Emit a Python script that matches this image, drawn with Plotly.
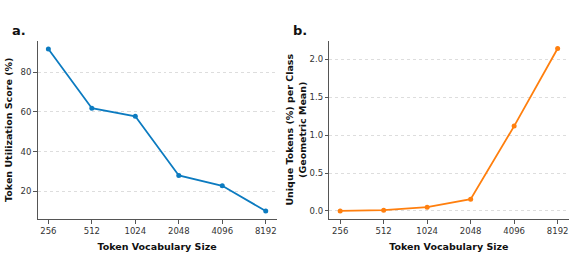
import plotly.graph_objects as go

vocab_sizes = ["256", "512", "1024", "2048", "4096", "8192"]
utilization = [91.8, 61.9, 57.8, 27.9, 22.7, 9.9]
unique_tokens = [0.0, 0.01, 0.05, 0.155, 1.12, 2.145]

BLUE = "#0C7BC0"
ORANGE = "#FF7F0E"
FONT = "DejaVu Sans"
W, H = 574, 268

fig = go.Figure()
fig.add_trace(go.Scatter(x=vocab_sizes, y=utilization, mode="lines+markers",
                         line=dict(color=BLUE, width=1.8),
                         marker=dict(color=BLUE, size=5),
                         xaxis="x", yaxis="y", showlegend=False))
fig.add_trace(go.Scatter(x=vocab_sizes, y=unique_tokens, mode="lines+markers",
                         line=dict(color=ORANGE, width=1.8),
                         marker=dict(color=ORANGE, size=5),
                         xaxis="x2", yaxis="y2", showlegend=False))

def xax(domain, anchor):
    return dict(domain=domain, anchor=anchor, type="category",
                categoryorder="array", categoryarray=vocab_sizes,
                range=[-0.25, 5.25], showgrid=False, zeroline=False,
                showline=True, linecolor="#555555", linewidth=1,
                ticks="outside", ticklen=3.5, tickcolor="#555555",
                tickfont=dict(family=FONT, size=8.5, color="#333333"),
                title=dict(text="<b>Token Vocabulary Size</b>",
                           font=dict(family=FONT, size=9.5, color="#111111"),
                           standoff=8))

def yax(domain, anchor, rng, dtick, fmt, title, standoff):
    return dict(domain=domain, anchor=anchor, range=rng, dtick=dtick,
                tickformat=fmt, showgrid=True, gridcolor="#dddddd",
                griddash="dot", gridwidth=0.8, zeroline=False,
                showline=True, linecolor="#555555", linewidth=1,
                ticks="outside", ticklen=3.5, tickcolor="#555555",
                tickfont=dict(family=FONT, size=8.5, color="#333333"),
                title=dict(text=title,
                           font=dict(family=FONT, size=9.5, color="#111111"),
                           standoff=standoff))

ydom = [(H - 219) / H, (H - 40.5) / H]
fig.update_layout(
    width=W, height=H, margin=dict(l=0, r=0, t=0, b=0),
    plot_bgcolor="white", paper_bgcolor="white",
    xaxis=xax([37.5 / W, 276.6 / W], "y"),
    yaxis=yax(ydom, "x", [5.9, 96.1], 20, "d",
              "<b>Token Utilization Score (%)</b>", 6),
    xaxis2=xax([329.3 / W, 568.5 / W], "y2"),
    yaxis2=yax(ydom, "x2", [-0.106, 2.25], 0.5, ".1f",
               "<b>Unique Tokens (%) per Class<br>(Geometric Mean)</b>", 1),
    annotations=[
        dict(text="<b>a.</b>", x=10 / W, y=(H - 31) / H, xref="paper", yref="paper",
             xanchor="left", yanchor="middle", showarrow=False,
             font=dict(family=FONT, size=13, color="#111111")),
        dict(text="<b>b.</b>", x=291 / W, y=(H - 31) / H, xref="paper", yref="paper",
             xanchor="left", yanchor="middle", showarrow=False,
             font=dict(family=FONT, size=13, color="#111111")),
    ],
)

fig.write_html(
    "out.html",
    config={"displayModeBar": False},
    post_script="document.body.style.margin='0';document.body.style.overflow='hidden';",
)
